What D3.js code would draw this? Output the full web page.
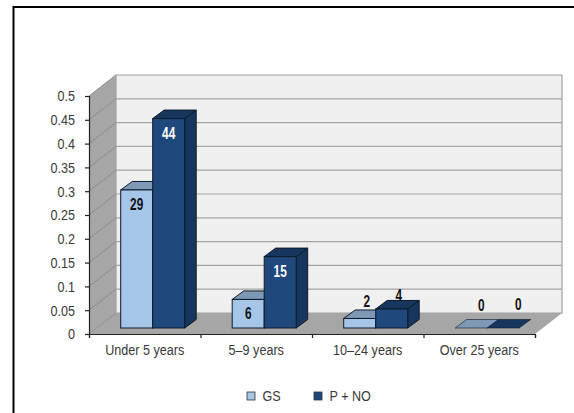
<!DOCTYPE html>
<html>
<head>
<meta charset="utf-8">
<style>
    body { margin: 0; background: #fff; }
    text { font-family: "Liberation Sans", Arial, sans-serif; }
</style>
<script src="https://cdn.jsdelivr.net/npm/d3@7"></script>
</head>
<body>
<div id="chart"></div>
<script>
// ===== DATA =====
const categories = ["Under 5 years", "5–9 years", "10–24 years", "Over 25 years"];
const seriesNames = ["GS", "P + NO"];
const gsValues = [0.29, 0.06, 0.02, 0];
const pnoValues = [0.44, 0.15, 0.04, 0];
const gsLabels = ["29", "6", "2", "0"];
const pnoLabels = ["44", "15", "4", "0"];
const yTicks = [0, 0.05, 0.1, 0.15, 0.2, 0.25, 0.3, 0.35, 0.4, 0.45, 0.5];

// ===== LAYOUT =====
const width = 574, height = 413;
const depthX = 27, depthY = 21;       // wall depth
const barDepthX = 11.5, barDepthY = 8.5;
const plotLeft = 89, plotRight = 535, plotTop = 96, plotBottom = 334;
const barBase = 328;                  // bars stand a little in front of the axis line
const textColor = "#3a3a3a";

const colors = [
    { front: "#a6c6e9", top: "#7f98b6", side: "#7f98b6" },
    { front: "#1f487c", top: "#17365d", side: "#17365d" }
];

// no narrow font installed, so squeeze the regular one sideways
function narrow(sel, k) {
    sel.each(function () {
        const t = d3.select(this);
        const tx = +t.attr("x") || 0, ty = +t.attr("y") || 0;
        t.attr("x", null).attr("y", null)
            .attr("transform", `translate(${tx},${ty}) scale(${k},1)`);
    });
}

const svg = d3.select("#chart").append("svg")
    .attr("width", width)
    .attr("height", height)
    .style("display", "block");

// page frame, left and top edges only
svg.append("path")
    .attr("d", `M13.5,${height}V7H${width}`)
    .attr("fill", "none")
    .attr("stroke", "#000")
    .attr("stroke-width", 2);

const y = d3.scaleLinear().domain([0, 0.5]).range([plotBottom, plotTop]);
const x = d3.scaleBand().domain(categories).range([plotLeft, plotRight]);
const xEdges = d3.scaleLinear().domain([0, categories.length]).range([plotLeft, plotRight]);
// bar heights share the axis scale, only the base is shifted
const barY = v => y(v) - (plotBottom - barBase);

// ===== WALLS =====
const pts = a => a.map(p => p.join(",")).join(" ");

svg.append("polygon")
    .attr("points", pts([[plotLeft + depthX, y(0.5) - depthY], [plotRight + depthX, y(0.5) - depthY], [plotRight + depthX, y(0) - depthY], [plotLeft + depthX, y(0) - depthY]]))
    .attr("fill", "#f0f0f0")
    .attr("stroke", "#a0a0a0")
    .attr("stroke-width", 1.2);

svg.append("polygon")
    .attr("points", pts([[plotLeft, y(0.5)], [plotLeft + depthX, y(0.5) - depthY], [plotLeft + depthX, y(0) - depthY], [plotLeft, y(0)]]))
    .attr("fill", "#a6a6a6");

svg.append("polygon")
    .attr("points", pts([[plotLeft, y(0)], [plotLeft + depthX, y(0) - depthY], [plotRight + depthX, y(0) - depthY], [plotRight, y(0)]]))
    .attr("fill", "#a6a6a6");

// gridlines on the back wall and running down the side wall
const grid = svg.append("g");
grid.selectAll("line.back")
    .data(yTicks.filter(d => d > 0 && d < 0.5))
    .enter().append("line")
    .attr("class", "back")
    .attr("x1", plotLeft + depthX)
    .attr("x2", plotRight + depthX)
    .attr("y1", d => y(d) - depthY)
    .attr("y2", d => y(d) - depthY)
    .attr("stroke", "#a3a3a3")
    .attr("stroke-width", 1.2);
grid.selectAll("line.side")
    .data(yTicks)
    .enter().append("line")
    .attr("class", "side")
    .attr("x1", plotLeft)
    .attr("x2", plotLeft + depthX)
    .attr("y1", d => y(d))
    .attr("y2", d => y(d) - depthY)
    .attr("stroke", "#8c8c8c")
    .attr("stroke-width", 1);

// ===== AXES =====
const yAxis = svg.append("g")
    .attr("transform", `translate(${plotLeft},0)`)
    .call(d3.axisLeft(y).tickValues(yTicks).tickSize(4).tickPadding(10).tickFormat(d => String(d)));
const xAxis = svg.append("g")
    .attr("transform", `translate(0,${plotBottom})`)
    .call(d3.axisBottom(xEdges).ticks(categories.length).tickSize(4).tickFormat(""));
[yAxis, xAxis].forEach(a => {
    a.selectAll("path").attr("stroke", "#222").attr("stroke-width", 1.2);
    a.selectAll("line").attr("stroke", "#222").attr("stroke-width", 1.2);
    a.selectAll("text").attr("font-size", 15).attr("fill", textColor)
        .style("font-family", '"Liberation Sans", Arial, sans-serif');
});
narrow(yAxis.selectAll("text"), 0.84);

svg.append("g").selectAll("text")
    .data(categories)
    .enter().append("text")
    .attr("x", d => x(d) + x.bandwidth() / 2)
    .attr("y", plotBottom + 20.5)
    .attr("text-anchor", "middle")
    .attr("font-size", 15)
    .attr("fill", textColor)
    .text(d => d)
    .call(narrow, 0.84);

// ===== BARS =====
const barWidth = 32;
const barOffset = 31.7;

function drawSeries(values, i) {
    const c = colors[i];
    const g = svg.append("g");
    const bx = d => x(categories[d]) + barOffset + i * barWidth;
    const idx = d3.range(values.length);

    g.selectAll("polygon.side")
        .data(idx.filter(d => values[d] > 0))
        .enter().append("polygon")
        .attr("class", "side")
        .attr("points", d => pts([
            [bx(d) + barWidth, barY(values[d])],
            [bx(d) + barWidth + barDepthX, barY(values[d]) - barDepthY],
            [bx(d) + barWidth + barDepthX, barBase - barDepthY],
            [bx(d) + barWidth, barBase]]))
        .attr("fill", c.side)
        .attr("stroke", "#0d1a2b");

    g.selectAll("polygon.top")
        .data(idx)
        .enter().append("polygon")
        .attr("class", "top")
        .attr("points", d => pts([
            [bx(d), barY(values[d])],
            [bx(d) + barDepthX, barY(values[d]) - barDepthY],
            [bx(d) + barWidth + barDepthX, barY(values[d]) - barDepthY],
            [bx(d) + barWidth, barY(values[d])]]))
        .attr("fill", c.top)
        .attr("stroke", "#0d1a2b")
        .attr("stroke-width", d => values[d] > 0 ? 1 : 0.6);

    g.selectAll("rect")
        .data(idx.filter(d => values[d] > 0))
        .enter().append("rect")
        .attr("x", bx)
        .attr("y", d => barY(values[d]))
        .attr("width", barWidth)
        .attr("height", d => barBase - barY(values[d]))
        .attr("fill", c.front)
        .attr("stroke", "#0d1a2b");
}

drawSeries(gsValues, 0);
drawSeries(pnoValues, 1);

// labels go on top of every bar, so draw them last
// tall bars carry the label inside, short ones float it above and to the right
function labelDx(v, i) {
    if (v >= 0.05) return 0;
    return v > 0 ? 7 : 10 + 5 * i;
}
function labelY(v, i) {
    if (v >= 0.05) return barY(v) + 20;
    return v > 0 ? barY(v) - 11 + 3 * i : barBase - 17 - 1.5 * i;
}
function drawLabels(values, labels, i) {
    svg.append("g").selectAll("text")
        .data(d3.range(values.length))
        .enter().append("text")
        .attr("x", d => x(categories[d]) + barOffset + i * barWidth + barWidth / 2 + labelDx(values[d], i))
        .attr("y", d => labelY(values[d], i))
        .attr("text-anchor", "middle")
        .attr("font-size", 16)
        .attr("font-weight", "bold")
        .attr("fill", d => (i === 1 && values[d] >= 0.05) ? "#fff" : "#111")
        .text(d => labels[d])
        .call(narrow, 0.74);
}
drawLabels(gsValues, gsLabels, 0);
drawLabels(pnoValues, pnoLabels, 1);

// ===== LEGEND =====
const legendX = d3.scaleOrdinal().domain(seriesNames).range([247, 314]);
const legend = svg.append("g").selectAll("g")
    .data(seriesNames)
    .enter().append("g")
    .attr("transform", d => `translate(${legendX(d)},392)`);
legend.append("rect")
    .attr("width", 8)
    .attr("height", 8)
    .attr("fill", (d, i) => colors[i].front)
    .attr("stroke", "#333")
    .attr("stroke-width", 0.8);
legend.append("text")
    .attr("x", 15.5)
    .attr("y", 9)
    .attr("font-size", 15)
    .attr("fill", textColor)
    .text(d => d)
    .call(narrow, 0.84);
</script>
</body>
</html>
